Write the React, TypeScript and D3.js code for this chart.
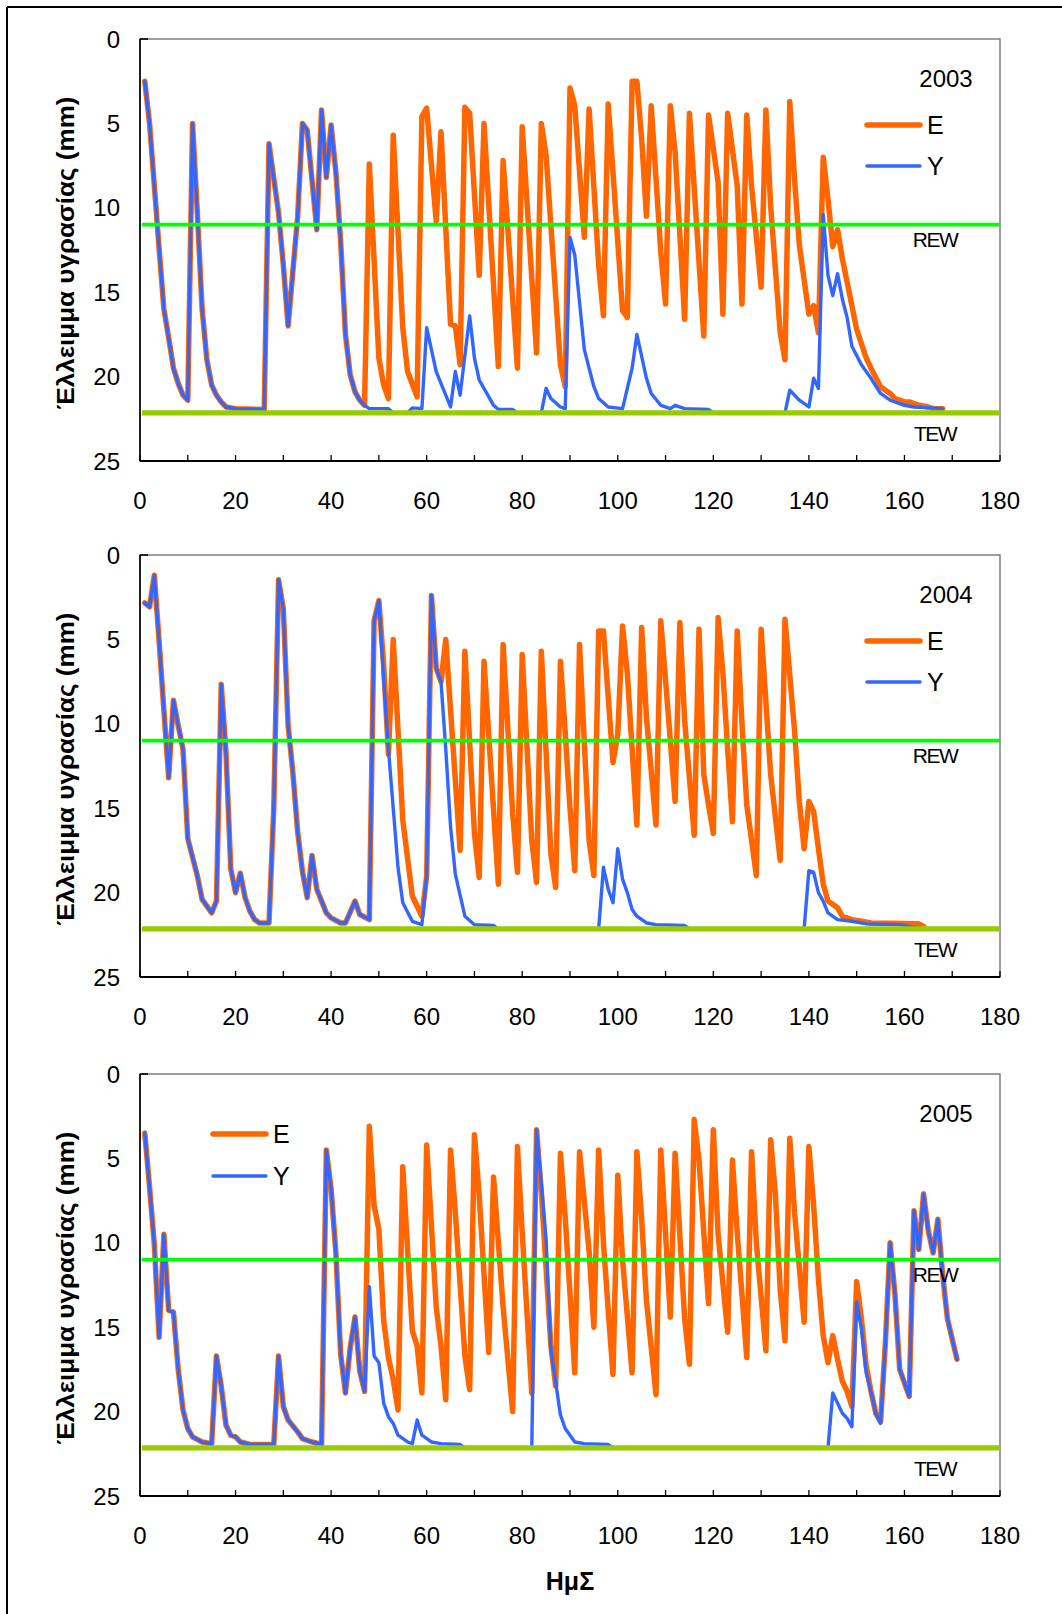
import React from 'react';
import * as d3 from 'd3';

type Pt = [number, number];

const years = ['2003', '2004', '2005'];

const e2003: Pt[] = [
  [1, 2.5], [2, 5], [3, 8.7], [4, 12.4], [5, 16], [6, 17.7], [7, 19.5], [8, 20.4], [9, 21.1], [10, 21.4],
  [11, 5], [12, 10.3], [13, 16], [14, 19], [15, 20.5], [16, 21.1], [17, 21.5], [18, 21.8], [20, 21.9], [26, 21.95],
  [27, 6.2], [29, 10.3], [30, 13.4], [31, 17], [33, 10.5], [34, 5], [35, 5.4], [37, 11.3], [38, 4.2], [39, 8.2],
  [40, 5.1], [41, 7.9], [42, 12], [43, 17.5], [44, 19.9], [45, 20.9], [46, 21.4], [47, 21.7], [48, 7.4], [50, 18.9],
  [51, 20.5], [52, 21.3], [53, 5.7], [55, 17.1], [56, 19.7], [58, 21.2], [59, 4.6], [60, 4.1], [62, 10.8], [63, 5.5],
  [65, 16.9], [66, 17], [67, 19.3], [68, 4.05], [69, 4.4], [71, 14], [72, 5], [75, 19.4], [76, 7.2], [79, 19.5],
  [80, 5.2], [83, 18.6], [84, 5], [85, 6.9], [88, 19.3], [89, 20.6], [90, 2.9], [91, 3.95], [93, 11.75], [94, 4.15],
  [96, 13.4], [97, 16.4], [98, 3.85], [99, 7.9], [101, 16.1], [102, 16.5], [103, 2.5], [104, 2.5], [105, 5.9], [106, 10.5],
  [107, 3.95], [109, 12.6], [110, 15.7], [111, 3.95], [112, 6.7], [114, 16.6], [115, 4.4], [118, 17.6], [119, 4.5], [121, 8.5],
  [122, 16.3], [123, 4.4], [125, 8.7], [126, 15.7], [127, 4.5], [128, 8.7], [130, 14.7], [131, 4.2], [132, 9.9], [134, 17.4],
  [135, 19], [136, 3.7], [137, 8.3], [138, 12.2], [140, 16.3], [141, 15.8], [142, 17.4], [143, 7], [144, 9.5], [145, 12.3],
  [146, 11.3], [147, 13], [148, 14.4], [149, 15.8], [150, 17.2], [152, 18.9], [153, 19.5], [155, 20.6], [157, 21], [158, 21.3],
  [160, 21.5], [161, 21.5], [163, 21.7], [165, 21.8], [166, 21.9], [168, 21.9],
];

const y2003: Pt[] = [
  [1, 2.5], [2, 5], [3, 8.7], [4, 12.4], [5, 16], [6, 17.7], [7, 19.5], [8, 20.4], [9, 21.1], [10, 21.4],
  [11, 5], [12, 10.3], [13, 16], [14, 19], [15, 20.5], [16, 21.1], [17, 21.5], [18, 21.8], [20, 21.9], [26, 21.95],
  [27, 6.2], [29, 10.3], [30, 13.4], [31, 17], [33, 10.5], [34, 5], [35, 5.4], [37, 11.3], [38, 4.2], [39, 8.2],
  [40, 5.1], [41, 7.9], [42, 12], [43, 17.5], [44, 19.9], [45, 20.9], [46, 21.4], [47, 21.7], [48, 21.9], [52, 21.9],
  [53, 22.15], [56, 22.15], [57, 21.85], [59, 21.9], [60, 17.1], [62, 19.7], [64, 21.1], [65, 21.8], [66, 19.7], [67, 21.1],
  [69, 16.4], [70, 18.9], [71, 20.2], [73, 21.2], [74, 21.7], [75, 21.95], [78, 21.95], [79, 22.15], [84, 22.15], [85, 20.7],
  [86, 21.3], [88, 21.8], [89, 21.9], [90, 11.75], [91, 12.8], [93, 18.4], [95, 20.6], [96, 21.3], [98, 21.8], [101, 21.9],
  [103, 19.5], [104, 17.5], [106, 20.1], [107, 21], [109, 21.7], [111, 21.9], [112, 21.7], [114, 21.9], [119, 21.95], [120, 22.15],
  [135, 22.15], [136, 20.8], [137, 21.1], [138, 21.4], [140, 21.8], [141, 20.1], [142, 20.7], [143, 10.4], [144, 14], [145, 15.2],
  [146, 13.9], [147, 15.4], [148, 16.5], [149, 18.2], [151, 19.3], [153, 20.1], [155, 21], [157, 21.4], [160, 21.7], [162, 21.8],
  [168, 21.9],
];

const e2004: Pt[] = [
  [1, 2.84], [2, 3.07], [3, 1.2], [4, 5.1], [5, 9.2], [6, 13.2], [7, 8.6], [8, 10.1], [9, 11.5], [10, 16.8],
  [12, 19], [13, 20.4], [15, 21.2], [16, 20.5], [17, 7.65], [18, 11.7], [19, 18.6], [20, 20], [21, 18.85], [22, 20.3],
  [23, 21.1], [24, 21.6], [25, 21.8], [27, 21.8], [28, 15], [29, 1.46], [30, 3.2], [31, 10.1], [32, 12.9], [33, 16.4],
  [34, 18.75], [35, 20.3], [36, 17.8], [37, 19.8], [39, 21.2], [40, 21.5], [42, 21.8], [43, 21.8], [45, 20.5], [46, 21.3],
  [48, 21.6], [49, 3.9], [50, 2.7], [51, 6.5], [52, 11.8], [53, 5], [55, 15.7], [57, 20.2], [59, 21.4], [60, 19],
  [61, 2.4], [62, 6.7], [63, 7.5], [64, 5], [67, 17.5], [68, 5.7], [70, 16.5], [71, 19.1], [72, 6.3], [75, 19.5],
  [76, 5.3], [78, 15.3], [79, 18.8], [80, 5.9], [82, 16.9], [83, 19.4], [84, 5.7], [86, 17.7], [87, 19.7], [88, 6.3],
  [89, 10.5], [90, 15], [91, 18.7], [92, 5.3], [94, 16.9], [95, 19], [96, 4.5], [97, 4.5], [98, 8.4], [99, 12.3],
  [100, 10.6], [101, 4.2], [102, 7], [103, 11.5], [104, 16], [105, 4.3], [106, 9.6], [108, 16], [109, 3.9], [110, 7.4],
  [112, 14.6], [113, 4], [114, 9.8], [116, 16.6], [117, 4.4], [118, 13], [119, 14.8], [120, 16.5], [121, 3.7], [122, 7],
  [123, 11.5], [124, 15.8], [125, 4.5], [126, 10], [127, 14.8], [129, 19], [130, 4.4], [132, 13], [134, 18.1], [135, 3.8],
  [137, 10.4], [138, 14.6], [139, 17.4], [140, 14.6], [141, 15.2], [142, 17.4], [143, 19.5], [144, 20.5], [146, 20.9], [147, 21.4],
  [149, 21.6], [151, 21.7], [153, 21.8], [163, 21.85], [164, 22],
];

const y2004: Pt[] = [
  [1, 2.84], [2, 3.07], [3, 1.2], [4, 5.1], [5, 9.2], [6, 13.2], [7, 8.6], [8, 10.1], [9, 11.5], [10, 16.8],
  [12, 19], [13, 20.4], [15, 21.2], [16, 20.5], [17, 7.65], [18, 11.7], [19, 18.6], [20, 20], [21, 18.85], [22, 20.3],
  [23, 21.1], [24, 21.6], [25, 21.8], [27, 21.8], [28, 15], [29, 1.46], [30, 3.2], [31, 10.1], [32, 12.9], [33, 16.4],
  [34, 18.75], [35, 20.3], [36, 17.8], [37, 19.8], [39, 21.2], [40, 21.5], [42, 21.8], [43, 21.8], [45, 20.5], [46, 21.3],
  [48, 21.6], [49, 3.9], [50, 2.7], [51, 7.4], [52, 11.5], [53, 15], [54, 18.5], [55, 20.6], [57, 21.7], [59, 21.9],
  [60, 19], [61, 2.4], [62, 6.7], [63, 7.5], [64, 11.5], [65, 16.1], [66, 18.9], [68, 21.4], [70, 21.9], [74, 21.95],
  [75, 22.15], [96, 22.15], [97, 18.5], [98, 19.8], [99, 20.6], [100, 17.4], [101, 19.2], [102, 20], [103, 21], [104, 21.4],
  [106, 21.8], [108, 21.9], [114, 21.95], [115, 22.15], [139, 22.15], [140, 18.7], [141, 18.8], [142, 20], [143, 20.5], [144, 21.2],
  [146, 21.6], [149, 21.7], [152, 21.85], [159, 21.9], [164, 22.15],
];

const e2005: Pt[] = [
  [1, 3.5], [2, 6.7], [3, 10.1], [4, 15.6], [5, 9.5], [6, 14], [7, 14.1], [8, 17.5], [9, 19.9], [10, 21],
  [11, 21.5], [13, 21.8], [15, 21.9], [16, 16.7], [17, 18.5], [18, 20.8], [19, 21.4], [20, 21.5], [21, 21.8], [23, 21.95],
  [28, 21.95], [29, 16.7], [30, 19.7], [31, 20.5], [33, 21.2], [34, 21.6], [36, 21.8], [38, 21.95], [39, 4.5], [40, 6.8],
  [41, 10.6], [42, 16.6], [43, 18.9], [44, 16.2], [45, 14.4], [46, 17.6], [47, 18.8], [48, 3.1], [49, 7.8], [50, 9.2],
  [51, 14.6], [52, 16.8], [53, 18.1], [54, 19.9], [55, 5.5], [57, 15.2], [58, 16.1], [59, 18.9], [60, 4.2], [62, 13.8],
  [63, 16.1], [64, 19.3], [65, 4.5], [66, 8.2], [68, 16.7], [69, 18.7], [70, 3.6], [71, 7.2], [73, 16.5], [74, 6.1],
  [76, 13.8], [78, 20], [79, 4.3], [80, 9.4], [82, 18.9], [83, 3.3], [84, 7], [86, 16.1], [87, 18.5], [88, 4.7],
  [89, 8.5], [90, 13], [91, 17.7], [92, 4.6], [94, 10.5], [95, 15], [96, 4.5], [97, 10], [98, 14], [99, 17.8],
  [100, 6], [101, 11], [103, 17.7], [104, 4.6], [105, 8.6], [106, 13.4], [108, 19], [109, 4.5], [111, 14.4], [112, 4.7],
  [114, 14.5], [115, 17.2], [116, 2.7], [117, 5.1], [119, 13.6], [120, 3.3], [121, 9.5], [123, 15.3], [124, 5.1], [125, 9.4],
  [127, 16.8], [128, 4.6], [129, 10], [131, 16.4], [132, 3.9], [133, 7.2], [134, 12.8], [135, 15.8], [136, 3.8], [137, 8.2],
  [139, 14.7], [140, 4.3], [141, 7.8], [142, 12.2], [143, 15.5], [144, 17.1], [145, 15.5], [146, 16.9], [147, 18.2], [148, 18.8],
  [149, 19.7], [150, 12.3], [151, 14.5], [152, 17.3], [153, 18.8], [154, 20.1], [155, 20.6], [156, 16], [157, 10], [158, 13],
  [159, 17.5], [161, 19.1], [162, 8.1], [163, 10.4], [164, 7.1], [165, 9.3], [166, 10.6], [167, 8.6], [168, 11.9], [169, 14.5],
  [171, 16.9],
];

const y2005: Pt[] = [
  [1, 3.5], [2, 6.7], [3, 10.1], [4, 15.6], [5, 9.5], [6, 14], [7, 14.1], [8, 17.5], [9, 19.9], [10, 21],
  [11, 21.5], [13, 21.8], [15, 21.9], [16, 16.7], [17, 18.5], [18, 20.8], [19, 21.4], [20, 21.5], [21, 21.8], [23, 21.95],
  [28, 21.95], [29, 16.7], [30, 19.7], [31, 20.5], [33, 21.2], [34, 21.6], [36, 21.8], [38, 21.95], [39, 4.5], [40, 6.8],
  [41, 10.6], [42, 16.6], [43, 18.9], [44, 16.2], [45, 14.4], [46, 17.6], [47, 18.8], [48, 12.6], [49, 16.7], [50, 17.1],
  [51, 19.5], [52, 20.3], [53, 20.7], [54, 21.4], [56, 21.8], [57, 21.9], [58, 20.5], [59, 21.4], [61, 21.8], [63, 21.9],
  [67, 21.95], [68, 22.15], [82, 22.15], [83, 3.3], [84, 6.5], [85, 9.8], [86, 16.3], [88, 20.2], [89, 21], [91, 21.8],
  [93, 21.9], [98, 21.95], [99, 22.15], [144, 22.15], [145, 18.9], [147, 20.1], [148, 20.4], [149, 20.9], [150, 13.5], [151, 15.1],
  [152, 17.7], [153, 18.8], [154, 20.1], [155, 20.7], [156, 16], [157, 10], [158, 13], [159, 17.5], [161, 19.1], [162, 8.1],
  [163, 10.4], [164, 7.1], [165, 9.3], [166, 10.6], [167, 8.6], [168, 11.9], [169, 14.5], [171, 16.9],
];

const eSeries: Pt[][] = [e2003, e2004, e2005];
const ySeries: Pt[][] = [y2003, y2004, y2005];

const REW = 11;
const TEW = 22.15;
const xTickLabels = [0, 20, 40, 60, 80, 100, 120, 140, 160, 180];
const xTickMarks = [0, 10, 20, 30, 40, 50, 60, 70, 80, 90, 100, 110, 120, 130, 140, 150, 160, 170, 180];
const yTickLabels = [0, 5, 10, 15, 20, 25];
const seriesNames = ['E', 'Y'];
const yAxisTitle = 'Έλλειμμα υγρασίας (mm)';
const xAxisTitle = 'ΗμΣ';

const W = 1062;
const H = 1614;
const PL = 140;
const PR = 1000;
const PH = 422;
const panelTops = [39, 555, 1074];
const legendOnLeft = [false, false, true];

const ORANGE = '#FF6600';
const BLUE = '#3366FF';
const REWC = '#00FF00';
const TEWC = '#99CC00';
const FONT = "'Liberation Sans', Arial, sans-serif";

function Panel({ top, year, e, y, leftLegend, showXTitle }: {
  top: number; year: string; e: Pt[]; y: Pt[]; leftLegend: boolean; showXTitle: boolean;
}) {
  const xs = d3.scaleLinear().domain([0, 180]).range([PL, PR]);
  const ys = d3.scaleLinear().domain([0, 25]).range([top, top + PH]);
  const line = d3.line<Pt>().x((d) => xs(d[0])).y((d) => ys(d[1]));
  const bottom = top + PH;

  const legE = leftLegend
    ? { x1: 213, x2: 266, y: top + 60, tx: 273 }
    : { x1: 867, x2: 920, y: top + 86, tx: 927 };
  const legY = leftLegend
    ? { x1: 213, x2: 266, y: top + 102, tx: 273 }
    : { x1: 867, x2: 920, y: top + 127, tx: 927 };

  return (
    <g>
      <rect x={PL} y={top} width={PR - PL} height={PH} fill="#fff" stroke="#6b6b6b" strokeWidth={1.3} />
      <path d={line(e) || ''} fill="none" stroke={ORANGE} strokeWidth={5.5} strokeLinejoin="round" strokeLinecap="round" />
      <path d={line(y) || ''} fill="none" stroke={BLUE} strokeWidth={3.4} strokeLinejoin="round" strokeLinecap="round" />
      <line x1={PL + 2} x2={PR} y1={ys(REW)} y2={ys(REW)} stroke={REWC} strokeWidth={3.8} />
      <line x1={PL + 2} x2={PR} y1={ys(TEW)} y2={ys(TEW)} stroke={TEWC} strokeWidth={5.3} />
      <line x1={PL} x2={PL} y1={top} y2={bottom} stroke="#000" strokeWidth={1.6} />
      <line x1={PL} x2={PR} y1={bottom} y2={bottom} stroke="#000" strokeWidth={2} />
      <line x1={PL} x2={PL + 8} y1={top} y2={top} stroke="#000" strokeWidth={1.6} />
      {xTickMarks.map((t) => (
        <line key={'m' + t} x1={xs(t)} x2={xs(t)} y1={bottom} y2={bottom - 6} stroke="#000" strokeWidth={1.3} />
      ))}
      {xTickLabels.map((t) => (
        <text key={'x' + t} x={xs(t)} y={bottom + 48} textAnchor="middle" fontSize={24} fontFamily={FONT} fill="#000">{t}</text>
      ))}
      {yTickLabels.map((t) => (
        <text key={'y' + t} x={120} y={ys(t) + 8.5} textAnchor="end" fontSize={24} fontFamily={FONT} fill="#000">{t}</text>
      ))}
      <text transform={`translate(74,${top + 214}) rotate(-90)`} textAnchor="middle" fontSize={24} fontWeight="bold"
        fontFamily={FONT} textLength={313} lengthAdjust="spacingAndGlyphs" fill="#000">{yAxisTitle}</text>
      <text x={946} y={top + 48} textAnchor="middle" fontSize={24} fontFamily={FONT} fill="#000">{year}</text>
      <line x1={legE.x1} x2={legE.x2} y1={legE.y} y2={legE.y} stroke={ORANGE} strokeWidth={5.5} strokeLinecap="round" />
      <text x={legE.tx} y={legE.y + 8.5} fontSize={25} fontFamily={FONT} fill="#000">{seriesNames[0]}</text>
      <line x1={legY.x1} x2={legY.x2} y1={legY.y} y2={legY.y} stroke={BLUE} strokeWidth={3.4} strokeLinecap="round" />
      <text x={legY.tx} y={legY.y + 8.5} fontSize={25} fontFamily={FONT} fill="#000">{seriesNames[1]}</text>
      <text x={935} y={ys(REW) + 22.5} textAnchor="middle" fontSize={21} letterSpacing={-1.5} fontFamily={FONT} fill="#000">REW</text>
      <text x={935} y={ys(TEW) + 28} textAnchor="middle" fontSize={21} letterSpacing={-1.5} fontFamily={FONT} fill="#000">TEW</text>
      {showXTitle && (
        <text x={570} y={bottom + 94} textAnchor="middle" fontSize={25} fontWeight="bold" fontFamily={FONT} fill="#000">{xAxisTitle}</text>
      )}
    </g>
  );
}

export default function App() {
  return (
    <svg width={W} height={H} viewBox={`0 0 ${W} ${H}`}
      style={{ position: 'absolute', left: 0, top: 0, display: 'block', background: '#fff' }}>
      <rect x={0} y={0} width={W} height={H} fill="#fff" />
      <line x1={7} x2={W} y1={7} y2={7} stroke="#000" strokeWidth={2} />
      <line x1={7} x2={7} y1={7} y2={H} stroke="#000" strokeWidth={2} />
      {years.map((yr, i) => (
        <Panel key={yr} top={panelTops[i]} year={yr} e={eSeries[i]} y={ySeries[i]}
          leftLegend={legendOnLeft[i]} showXTitle={i === years.length - 1} />
      ))}
    </svg>
  );
}
